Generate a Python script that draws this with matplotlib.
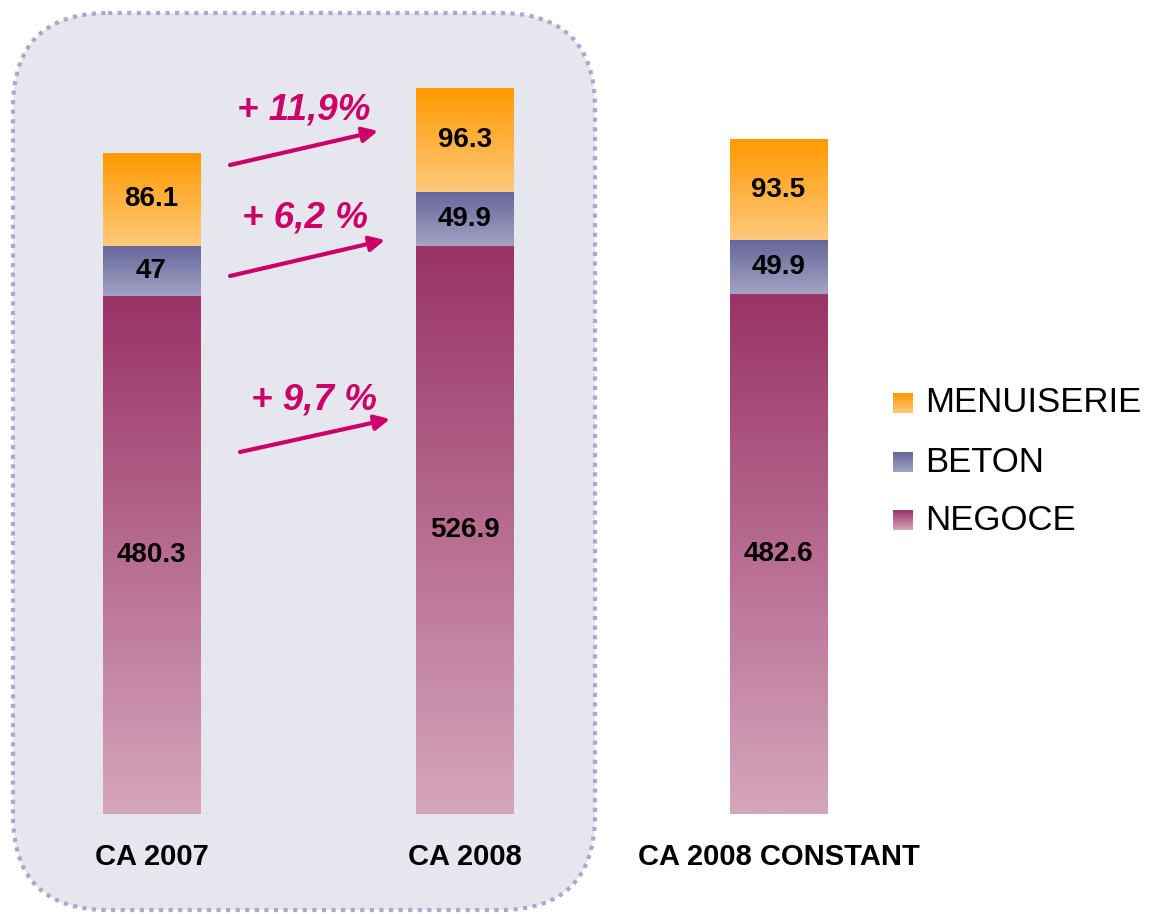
import numpy as np
import matplotlib
matplotlib.use('Agg')
from matplotlib import pyplot as plt
from matplotlib.patches import FancyBboxPatch
from matplotlib.colors import LinearSegmentedColormap

plt.rcParams['font.family'] = ['Liberation Sans', 'DejaVu Sans']

categories = ['CA 2007', 'CA 2008', 'CA 2008 CONSTANT']
series = ['NEGOCE', 'BETON', 'MENUISERIE']
negoce = [480.3, 526.9, 482.6]
beton = [47, 49.9, 49.9]
menuiserie = [86.1, 96.3, 93.5]
growth_labels = ['+ 11,9%', '+ 6,2 %', '+ 9,7 %']

# bottom colour, top colour of each segment gradient
grad_colors = {
    'NEGOCE': ('#d5a6bb', '#993366'),
    'BETON': ('#a3a3c3', '#66669a'),
    'MENUISERIE': ('#ffc97c', '#ff9900'),
}

W, H = 1150, 914
base_px = 814
scale = 1.078
x0_px = 151.5
step_px = 313.5
bar_w = 98 / step_px

fig = plt.figure(figsize=(W / 100, H / 100), dpi=100)

# background panel (pixel coords)
bg = fig.add_axes([0, 0, 1, 1])
bg.set_xlim(0, W)
bg.set_ylim(H, 0)
bg.axis('off')
panel = FancyBboxPatch((13, 13), 582, 897, boxstyle='round,pad=0,rounding_size=95',
                       facecolor='#e6e6ef', edgecolor='#a9a9cc', linewidth=3,
                       linestyle=(0, (1, 1.3)))
bg.add_patch(panel)

# bars (data coords)
ax = fig.add_axes([0, 0, 1, 1])
ax.patch.set_alpha(0)
ax.axis('off')
xlim = (-x0_px / step_px, (W - x0_px) / step_px)
ylim = (-(H - base_px) / scale, base_px / scale)

x = np.arange(len(categories))
bottom = np.zeros(len(categories))
grad = np.linspace(0, 1, 256).reshape(-1, 1)
for name, vals in zip(series, [negoce, beton, menuiserie]):
    bars = ax.bar(x, vals, bar_w, bottom=bottom, color='none', linewidth=0)
    cmap = LinearSegmentedColormap.from_list(name, grad_colors[name])
    for rect, v in zip(bars, vals):
        l, b = rect.get_x(), rect.get_y()
        ax.imshow(grad, extent=(l, l + rect.get_width(), b, b + rect.get_height()),
                  origin='lower', aspect='auto', cmap=cmap, zorder=2)
        ax.text(l + rect.get_width() / 2, b + v / 2, '{:g}'.format(v),
                ha='center', va='center', fontsize=20, fontweight='bold', zorder=3)
    bottom += np.array(vals)

for xi, cat in zip(x, categories):
    ax.text(xi, -(857 - base_px) / scale, cat, ha='center', va='center',
            fontsize=21, fontweight='bold')

ax.set_xlim(*xlim)
ax.set_ylim(*ylim)

# arrows, growth labels and legend (pixel coords)
ov = fig.add_axes([0, 0, 1, 1])
ov.patch.set_alpha(0)
ov.set_xlim(0, W)
ov.set_ylim(H, 0)
ov.axis('off')

arrows = [((230, 165), (378, 131)), ((230, 276), (385, 240)), ((240, 452), (390, 419))]
label_pos = [(304, 110), (305, 218), (314, 400)]
for (p0, p1), lab, pos in zip(arrows, growth_labels, label_pos):
    ov.annotate('', xy=p1, xytext=p0,
                arrowprops=dict(arrowstyle='-|>,head_length=0.9,head_width=0.45',
                                color='#cc0066', lw=3, shrinkA=0, shrinkB=0))
    ov.text(pos[0], pos[1], lab, ha='center', va='center', color='#cc0066',
            fontsize=26.5, fontweight='bold', fontstyle='italic')

leg_y = [403, 462, 520]
for name, y in zip(series[::-1], leg_y):
    c_bot, c_top = grad_colors[name]
    cmap = LinearSegmentedColormap.from_list(name + '_leg', [c_top, c_bot])
    ov.imshow(grad, extent=(893, 913, y + 10, y - 10), origin='upper',
              aspect='auto', cmap=cmap)
    ov.text(925, y, name, ha='left', va='center', fontsize=25)
ov.set_xlim(0, W)
ov.set_ylim(H, 0)

fig.savefig('out.png', dpi=100)
